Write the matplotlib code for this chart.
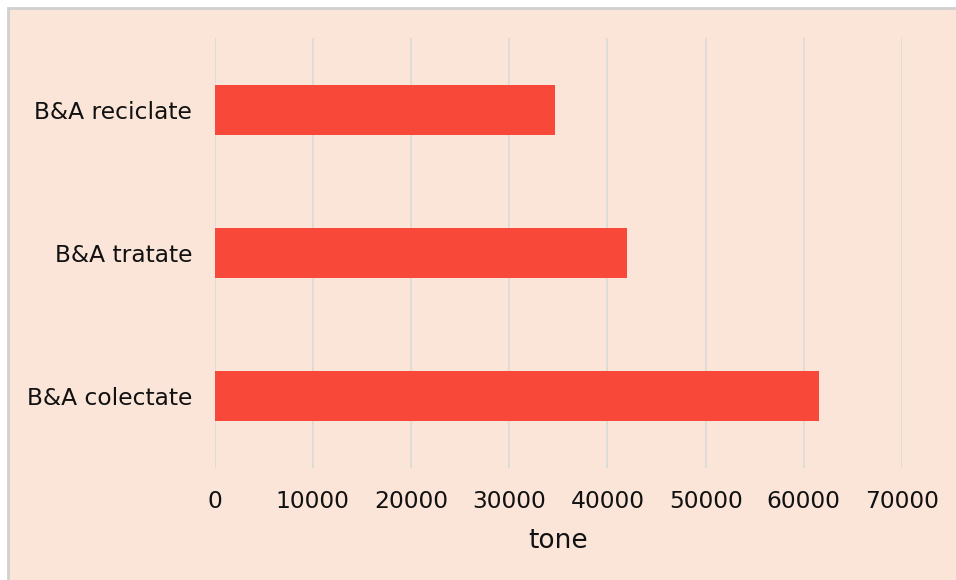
import matplotlib
matplotlib.use("Agg")
import matplotlib.pyplot as plt
from matplotlib.patches import Rectangle

categories = ["B&A colectate", "B&A tratate", "B&A reciclate"]
values = [61500, 42000, 34700]
x_ticks = [0, 10000, 20000, 30000, 40000, 50000, 60000, 70000]
x_label = "tone"

bg = "#FAE5D8"
bar_color = "#F8483A"
grid_color = "#D9D9D9"

plt.rcParams["font.family"] = ["DejaVu Sans"]

fig = plt.figure(figsize=(9.56, 5.8), dpi=100)
fig.patch.set_facecolor("white")

# Chart area frame, drawn behind the axes
W, H = 956, 580
frame = Rectangle((8 / W, -0.01), 1 - 8 / W + 0.01, 1 - 8 / H + 0.01,
                  transform=fig.transFigure, facecolor=bg,
                  edgecolor="#D0D0D0", linewidth=2, zorder=-10)
fig.patches.append(frame)

ax = fig.add_axes([214.5 / W, 1 - 468 / H, 687.5 / W, 430 / H])
ax.set_zorder(1)
ax.patch.set_visible(False)

ypos = list(range(len(categories)))
ax.barh(ypos, values, height=0.35, color=bar_color, zorder=3)

ax.set_xlim(0, 70000)
ax.set_ylim(-0.5, len(categories) - 0.5)
ax.set_xticks(x_ticks)
ax.set_xticklabels([str(t) for t in x_ticks])
ax.set_yticks(ypos)
ax.set_yticklabels(categories)

ax.grid(axis="x", color=grid_color, linewidth=1.2, zorder=0)
ax.grid(axis="y", visible=False)
ax.set_axisbelow(True)
for s in ax.spines.values():
    s.set_visible(False)

ax.tick_params(axis="both", length=0, labelsize=16.8, colors="#111111")
ax.tick_params(axis="x", pad=16)
ax.tick_params(axis="y", pad=16)
ax.set_xlabel(x_label, fontsize=19, labelpad=11, color="#111111")

fig.savefig("out.png", dpi=100, facecolor=fig.get_facecolor())
